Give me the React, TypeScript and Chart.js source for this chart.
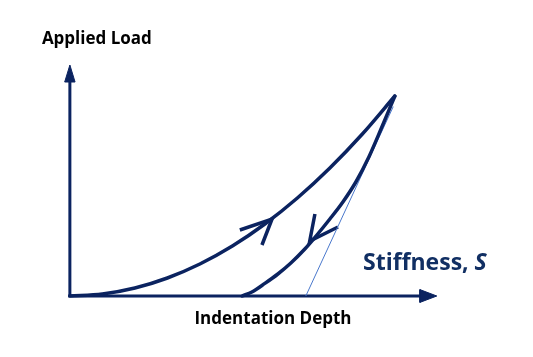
import React, { useEffect, useRef } from 'react';
import { Chart, registerables } from 'chart.js';

Chart.register(...registerables);

// Loading curve (depth, load) in relative units, peak = (100, 100)
const loadDepth = [0, 10, 20, 30, 40, 50, 60, 70, 80, 90, 100];
const loadForce = [0, 1, 4, 9, 16, 25, 36, 49, 64, 81, 100];
// Unloading curve
const unloadDepth = [53, 56, 60, 64, 68, 72, 76, 80, 84, 88, 92, 96, 100];
const unloadForce = [0, 2, 6.3, 11, 16.5, 23, 30.5, 38.5, 47, 57, 69.5, 84.5, 100];
// Stiffness tangent line
const tangentDepth = [72.6, 99.5];
const tangentForce = [0, 94.7];
// Direction arrows on curves (barb, tip, barb)
const loadArrowDepth = [52.3, 62.2, 59.1];
const loadArrowForce = [33, 38.5, 25.5];
const unloadArrowDepth = [75.4, 73.8, 82.5];
const unloadArrowForce = [41, 27.5, 34.5];
// Axes
const axisYDepth = [0, 0];
const axisYForce = [-0.5, 107];
const yArrowDepth = [-1.6, 0, 1.6, -1.6];
const yArrowForce = [107, 115.5, 107, 107];
const axisXDepth = [-0.5, 107.7];
const axisXForce = [0, 0];
const xArrowDepth = [107.7, 112.9, 107.7, 107.7];
const xArrowForce = [-3.2, 0, 3.2, -3.2];

const xLabel = 'Indentation Depth';
const yLabel = 'Applied Load';
const stiffLabel = 'Stiffness, ';
const stiffSymbol = 'S';

const NAVY = '#0b2360';
const TEXT_NAVY = '#112f63';
const TANGENT = '#4a78cc';

const pts = (xs: number[], ys: number[]) => xs.map((x, i) => ({ x, y: ys[i] }));

const textPlugin = {
  id: 'labels',
  afterDraw(chart: any) {
    const { ctx } = chart;
    const xs = chart.scales.x;
    const ys = chart.scales.y;
    const ox = xs.getPixelForValue(0);
    const oy = ys.getPixelForValue(0);
    ctx.save();
    ctx.fillStyle = '#000000';
    ctx.textBaseline = 'alphabetic';
    ctx.font = 'bold 17px "Open Sans"';
    ctx.textAlign = 'left';
    ctx.fillText(yLabel, ox - 28, ys.getPixelForValue(126));
    ctx.textAlign = 'center';
    ctx.fillText(xLabel, xs.getPixelForValue(62.5), oy + 28);
    ctx.fillStyle = TEXT_NAVY;
    ctx.textAlign = 'left';
    ctx.font = 'bold 23px "Open Sans"';
    const sx = xs.getPixelForValue(90.2);
    const sy = ys.getPixelForValue(13);
    ctx.fillText(stiffLabel, sx, sy);
    const w = ctx.measureText(stiffLabel).width;
    ctx.font = 'italic bold 23px "Open Sans"';
    ctx.fillText(stiffSymbol, sx + w, sy);
    ctx.restore();
  },
};

export default function App() {
  const ref = useRef<HTMLCanvasElement>(null);
  useEffect(() => {
    if (!ref.current) return;
    const line = (xs: number[], ys: number[], color: string, width: number, extra: any = {}) => ({
      data: pts(xs, ys),
      showLine: true,
      borderColor: color,
      backgroundColor: color,
      borderWidth: width,
      pointRadius: 0,
      pointHoverRadius: 0,
      fill: false,
      clip: false,
      ...extra,
    });
    const chart = new Chart(ref.current, {
      type: 'scatter',
      data: {
        datasets: [
          line(loadDepth, loadForce, NAVY, 3.5, { cubicInterpolationMode: 'monotone', borderCapStyle: 'round' }),
          line(unloadDepth, unloadForce, NAVY, 3.5, { cubicInterpolationMode: 'monotone', borderCapStyle: 'round' }),
          line(tangentDepth, tangentForce, TANGENT, 1),
          line(loadArrowDepth, loadArrowForce, NAVY, 3.5, { borderJoinStyle: 'miter' }),
          line(unloadArrowDepth, unloadArrowForce, NAVY, 3.5, { borderJoinStyle: 'miter' }),
          line(axisYDepth, axisYForce, NAVY, 3),
          line(yArrowDepth, yArrowForce, NAVY, 1, { fill: 'shape' }),
          line(axisXDepth, axisXForce, NAVY, 3),
          line(xArrowDepth, xArrowForce, NAVY, 1, { fill: 'shape' }),
        ],
      },
      options: {
        responsive: false,
        animation: false,
        events: [],
        layout: { padding: 0 },
        plugins: { legend: { display: false }, tooltip: { enabled: false }, title: { display: false } },
        scales: {
          x: { type: 'linear', display: false, min: -21.5, max: 142.5 },
          y: { type: 'linear', display: false, min: -30.5, max: 148 },
        },
      },
      plugins: [textPlugin],
    });
    return () => chart.destroy();
  }, []);
  return (
    <div style={{ position: 'fixed', left: 0, top: 0, width: 533, height: 357, background: '#fff' }}>
      <canvas ref={ref} width={533} height={357} />
    </div>
  );
}
